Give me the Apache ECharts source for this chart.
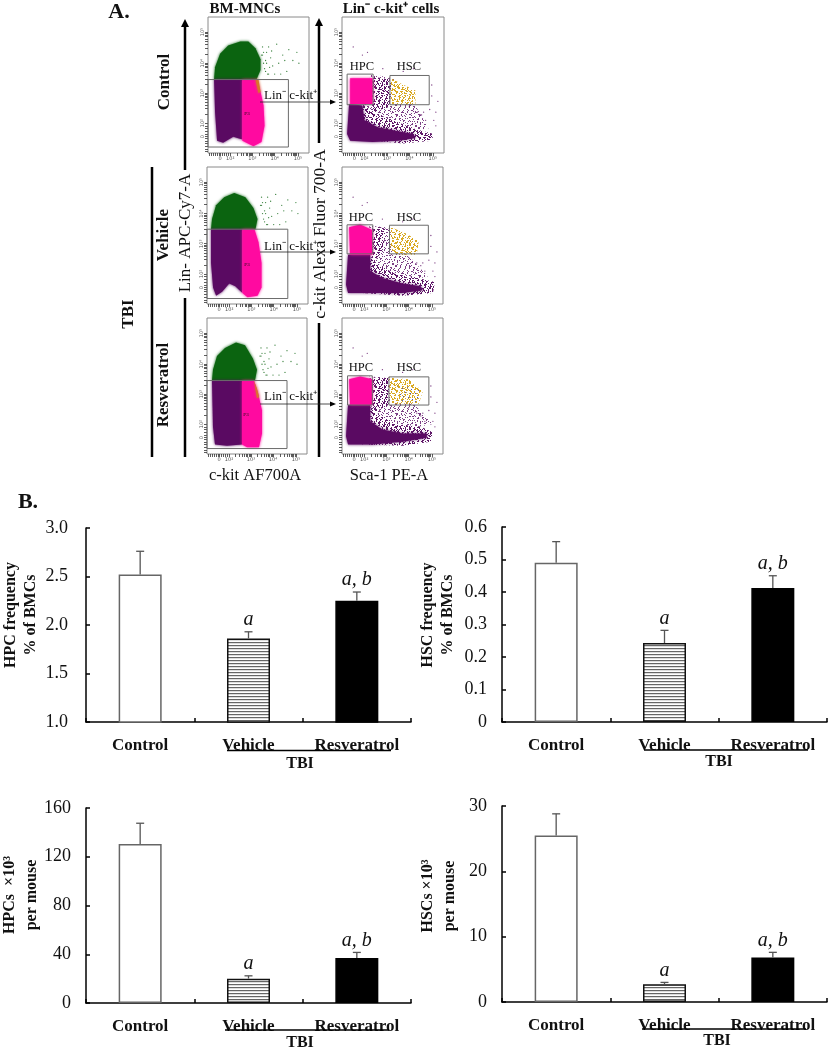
<!DOCTYPE html>
<html><head><meta charset="utf-8">
<style>html,body{margin:0;padding:0;background:#fff}#c{width:828px;height:1050px}</style>
<script src="https://cdn.jsdelivr.net/npm/echarts@6/dist/echarts.min.js"></script>
</head><body><div id="c"></div>
<script>
// ---------- Panel B data ----------
const categories = ['Control', 'Vehicle', 'Resveratrol'];
const hpcFreqMean = [2.52, 1.86, 2.25];
const hpcFreqTop = [2.76, 1.93, 2.34];
const hscFreqMean = [0.49, 0.243, 0.412];
const hscFreqTop = [0.555, 0.282, 0.45];
const hpcCountMean = [130.5, 20, 37];
const hpcCountTop = [147.5, 22.3, 41.5];
const hscCountMean = [25.5, 2.7, 6.8];
const hscCountTop = [28.8, 3.0, 7.6];
const sigLabels = ['', 'a', 'a, b'];

// ---------- Panel A data: population outlines (percent of plot width / height) ----------
const greenCtrl = [[6,54],[7,63],[12,73],[20,79],[32,82],[40,82],[47,77],[52,69],[52,61],[48,54]];
const purpleCtrl = [[6,54],[34,54],[34,10],[25,12],[15,7.5],[9,9],[7,30]];
const pinkCtrl = [[34,54],[48,54],[52,45],[55,35],[56,20],[53,8],[45,5],[34,9]];
const sliverCtrl = [[47,54],[50,54],[52,45],[50,44]];
const greenVeh = [[4,54.6],[5,62],[9,72],[17,78],[27,81],[38,78],[46,70],[50,62],[48,54.6]];
const purpleVeh = [[4,54.6],[35,54.6],[35,8],[28,13],[22,15],[15,9],[9,6],[6,12],[4,30]];
const pinkVeh = [[35,54.6],[47,54.6],[51,45],[54,30],[54,12],[50,6],[40,5],[35,8]];
const greenRes = [[5,54],[6,62],[10,72],[18,78],[29,82],[38,80],[46,70],[50,62],[48,54]];
const purpleRes = [[5,54],[35,54],[35,7],[20,6],[8,7],[6,20]];
const pinkRes = [[35,54],[47,54],[51,45],[55,32],[55,15],[52,5],[40,5],[35,7]];
const sliverRes = [[47,54],[50,48],[52,42],[50,41]];

const denseCtrl = [[7,36],[20,35],[22,24],[35,19],[55,16],[70,14],[72,11],[55,9],[30,8],[8,9],[5,14]];
const tailCtrl = [[20,36],[30,30],[50,24],[70,18],[90,14],[88,9],[60,7],[20,10]];
const midCtrl = [[30,56],[48,54],[47,34],[30,30]];
const sparseCtrl = [[28,58],[50,55],[72,35],[85,18],[60,16],[30,22],[22,32]];
const hpcCtrl = [[8,55],[30,55],[30,36],[8,36]];
const hscCtrl = [[48,55],[58,51],[72,46],[72,36],[48,36]];
const denseVeh = [[6,36],[28,36],[28,24],[40,19],[60,15],[78,13],[80,10],[60,8],[30,8],[6,8],[4,14]];
const tailVeh = [[26,36],[34,30],[52,22],[75,19],[92,16],[90,8],[60,6],[20,8]];
const midVeh = [[30,57],[44,55],[40,38],[30,30]];
const sparseVeh = [[27,57],[45,56],[60,40],[85,20],[60,16],[30,22],[27,30]];
const hpcVeh = [[7,56],[18,58],[30,54],[30,36],[8,36]];
const hscVeh = [[48,56],[62,52],[76,46],[74,36],[55,36],[48,40]];
const denseRes = [[6,36],[28,36],[28,24],[40,18],[60,15],[84,15],[84,12],[60,9],[30,7],[6,7],[4,13]];
const tailRes = [[26,36],[34,30],[52,22],[78,20],[90,16],[88,9],[60,6],[20,7]];
const midRes = [[30,56],[46,56],[46,36],[30,30]];
const sparseRes = [[27,57],[50,56],[72,36],[90,22],[60,18],[30,24]];
const hpcRes = [[7,55],[18,57],[30,55],[30,36],[8,36]];
const hscRes = [[46,56],[66,55],[80,46],[76,37],[48,37]];
const blueRes = [[55,50],[76,48],[76,38],[60,38]];

const strayLeft = [[56,62],[58,66],[54,72],[60,58],[62,70],[66,58],[70,66],[74,72],[80,76],[84,68],[60,78],[55,74],[68,80],[78,60],[88,74],[64,64],[72,58],[57,68],[53,72],[90,66],[76,68],[59,58],[55,66],[57,60],[61,63],[54,78],[58,74],[63,75]];
const strayRight = [[11,78],[20,72],[25,74],[88,42],[92,30],[90,24],[94,38],[80,30],[70,62],[60,60],[40,62],[88,50],[78,28],[82,24],[74,30],[66,34],[92,20],[86,32]];

const flowMajorTicks = [12, 22, 44, 66, 89];
const flowTickLabels = ['0', '10²', '10³', '10⁴', '10⁵'];

const SERIF = '"Liberation Serif","Times New Roman",serif';

// ---------- fill textures ----------
const dots = [[1,2],[5,1],[9,3],[14,1],[19,2],[3,6],[8,7],[12,5],[17,6],[21,8],[1,10],[6,11],[11,9],[15,11],[20,12],[3,15],[9,14],[13,16],[18,15],[22,17],[1,19],[6,18],[11,20],[16,19],[20,21],[4,22]];
const shifts = [[0,0],[7,5],[13,11],[3,17],[17,3],[10,20],[20,9],[5,13],[15,16],[2,8],[11,2],[19,18]];
function tile(color, n) {
  const c = document.createElement('canvas'); c.width = c.height = 23;
  const g = c.getContext('2d'); g.fillStyle = color;
  shifts.slice(0,n).forEach(s => dots.forEach(d => g.fillRect((d[0]+s[0])%23, (d[1]+s[1])%23, 1, 1)));
  return {image: c, repeat: 'repeat'};
}
function stripes() {
  const c = document.createElement('canvas'); c.width = 4; c.height = 3;
  const g = c.getContext('2d'); g.fillStyle = '#fff'; g.fillRect(0,0,4,3);
  g.fillStyle = '#666'; g.fillRect(0,0,4,1); g.fillStyle = '#ddd'; g.fillRect(0,1,4,1);
  return {image: c, repeat: 'repeat'};
}
const PURPLE = '#5a0a62', GREEN = '#0b6410', PINK = '#ff0aa0', GOLD = '#d9a820', BLUE = '#4a52c8', ORANGE='#d8762a';
const sparseTile = tile('#7d3f86', 5);
const midTile = tile('#5f1868', 10);
const goldTile = tile(GOLD, 9);
const blueTile = tile(BLUE, 1);

const solid = (pts, col) => ({pts, fill: col, edge: col, blur: 3});
const soft = (pts, fill, col) => ({pts, fill, edge: col, blur: 0});
const flowPanels = [
 {box:[208,17,101,136], polys:[solid(greenCtrl,GREEN),solid(purpleCtrl,PURPLE),solid(pinkCtrl,PINK),solid(sliverCtrl,ORANGE)], gates:[[0,4.4,79.6,54]], stray:strayLeft, strayCol:GREEN},
 {box:[342,17,102,136], polys:[soft(sparseCtrl,sparseTile,PURPLE),soft(midCtrl,midTile,PURPLE),soft(tailCtrl,midTile,PURPLE),solid(denseCtrl,PURPLE),solid(hpcCtrl,PINK),soft(hscCtrl,goldTile,GOLD)], gates:[[5,35.5,30.5,58],[47,35.5,85.5,57]], stray:strayRight, strayCol:PURPLE},
 {box:[207,167,101,137], polys:[solid(greenVeh,GREEN),solid(purpleVeh,PURPLE),solid(pinkVeh,PINK)], gates:[[0,4,80,54.6]], stray:strayLeft, strayCol:GREEN},
 {box:[342,167,101,137], polys:[soft(sparseVeh,sparseTile,PURPLE),soft(midVeh,midTile,PURPLE),soft(tailVeh,midTile,PURPLE),solid(denseVeh,PURPLE),solid(hpcVeh,PINK),soft(hscVeh,goldTile,GOLD)], gates:[[5,36.6,30.5,57.8],[47,36.6,85.5,57.5]], stray:strayRight, strayCol:PURPLE},
 {box:[207,318,100,136], polys:[solid(greenRes,GREEN),solid(purpleRes,PURPLE),solid(pinkRes,PINK),solid(sliverRes,ORANGE)], gates:[[0,4,80,54]], stray:strayLeft, strayCol:GREEN},
 {box:[342,318,101,136], polys:[soft(sparseRes,sparseTile,PURPLE),soft(midRes,midTile,PURPLE),soft(tailRes,midTile,PURPLE),solid(denseRes,PURPLE),solid(hpcRes,PINK),soft(hscRes,goldTile,GOLD),soft(blueRes,blueTile,BLUE)], gates:[[5.5,36,30,57.5],[46.5,36,86,56.7]], stray:strayRight, strayCol:PURPLE}
];

// ---------- bar panels ----------
const barPanels = [
 {box:[86,528,325,194], min:1, max:3, step:0.5, mean:hpcFreqMean, top:hpcFreqTop, margin:18, fmt:v=>v.toFixed(1)},
 {box:[502,527,325,195], min:0, max:0.6, step:0.1, mean:hscFreqMean, top:hscFreqTop, margin:15, fmt:v=>v===0?'0':v.toFixed(1)},
 {box:[86,808,325,195], min:0, max:160, step:40, mean:hpcCountMean, top:hpcCountTop, margin:15, fmt:v=>String(v)},
 {box:[502,806,325,196], min:0, max:30, step:10, mean:hscCountMean, top:hscCountTop, margin:15, fmt:v=>String(v)}
];
const barStyles = [
 {color:'#fff', borderColor:'#666', borderWidth:1.5},
 {color:stripes(), borderColor:'#111', borderWidth:1.5},
 {color:'#000', borderColor:'#000', borderWidth:1.5}
];

const grids = [], xAxes = [], yAxes = [], series = [];
function addGrid(b){ grids.push({left:b[0],top:b[1],width:b[2],height:b[3],containLabel:false,show:false}); return grids.length-1; }

flowPanels.forEach(p => {
  const i = addGrid(p.box);
  grids[i].show = true; grids[i].borderColor = '#8a8a8a'; grids[i].borderWidth = 1; grids[i].backgroundColor = '#fff';
  const minor = [];
  [[22,22],[44,22],[66,23]].forEach(([s,w]) => [.3,.48,.6,.7,.78,.85,.9,.95].forEach(f => minor.push(s+w*f)));
  [1,3,5,7,9,11,14,16,18,20].forEach(v => minor.push(v));
  const ticks = flowMajorTicks.concat(minor);
  const ax = rot => ({
    type:'value', gridIndex:i, min:0, max:100, splitLine:{show:false},
    axisLine:{show:false},
    axisTick:{show:true, length:3, customValues:ticks, lineStyle:{color:'#333', width:.8}},
    axisLabel:{show:true, customValues:flowMajorTicks, rotate:rot, margin:3, fontSize:5, color:'#555', fontFamily:'"DejaVu Sans"',
      formatter:v=>flowTickLabels[flowMajorTicks.indexOf(Math.round(v))]||''}
  });
  xAxes.push(ax(0)); yAxes.push(ax(90));
  series.push({type:'custom', xAxisIndex:i, yAxisIndex:i, silent:true, z:2, animation:false, coordinateSystem:'cartesian2d',
    encode:{x:0,y:1},
    data:p.polys.map((q,k)=>[k,0]),
    renderItem:(params,api)=>{
      const q = p.polys[params.dataIndex];
      return {type:'polygon', shape:{points:q.pts.map(d=>api.coord(d))},
        style:{fill:q.fill, shadowBlur:q.blur, shadowColor:q.edge}};
    }});
  series.push({type:'scatter', xAxisIndex:i, yAxisIndex:i, silent:true, z:3, animation:false, symbolSize:1.3,
    itemStyle:{color:p.strayCol}, data:p.stray});
  series.push({type:'custom', xAxisIndex:i, yAxisIndex:i, silent:true, z:4, animation:false,
    encode:{x:0,y:1},
    data:p.gates.map((g,k)=>[k,0]),
    renderItem:(params,api)=>{
      const g = p.gates[params.dataIndex];
      const a = api.coord([g[0],g[3]]), b = api.coord([g[2],g[1]]);
      return {type:'rect', shape:{x:a[0],y:a[1],width:b[0]-a[0],height:b[1]-a[1]}, style:{fill:null,stroke:'#6b6b6b',lineWidth:1}};
    }});
});

barPanels.forEach(p => {
  const i = addGrid(p.box);
  xAxes.push({type:'category', gridIndex:i, data:categories, boundaryGap:true,
    axisLine:{show:true,onZero:false,lineStyle:{color:'#000',width:1.5}},
    axisTick:{show:true,inside:true,length:4,alignWithLabel:false,lineStyle:{color:'#000',width:1.5}},
    axisLabel:{show:true,interval:0,margin:15,fontFamily:SERIF,fontWeight:'bold',fontSize:17,color:'#111'},
    splitLine:{show:false}});
  yAxes.push({type:'value', gridIndex:i, min:p.min, max:p.max, interval:p.step,
    axisLine:{show:true,lineStyle:{color:'#000',width:1.5}},
    axisTick:{show:true,inside:true,length:4,lineStyle:{color:'#000',width:1.5}},
    axisLabel:{show:true,margin:p.margin,fontFamily:SERIF,fontSize:18,color:'#111',formatter:p.fmt},
    splitLine:{show:false}});
  series.push({type:'bar', xAxisIndex:i, yAxisIndex:i, barWidth:43, silent:true, animation:false, z:2,
    data:p.mean.map((v,k)=>({value:v,itemStyle:barStyles[k]}))});
  series.push({type:'custom', xAxisIndex:i, yAxisIndex:i, silent:true, animation:false, z:3,
    encode:{x:0,y:1},
    data:p.top.map((t,k)=>[k,t,p.mean[k]]),
    renderItem:(params,api)=>{
      const a = api.coord([api.value(0),api.value(1)]), b = api.coord([api.value(0),api.value(2)]);
      const st = {stroke:'#555',lineWidth:1.3,fill:null};
      const kids = [
        {type:'line',shape:{x1:a[0],y1:a[1],x2:b[0],y2:b[1]},style:st},
        {type:'line',shape:{x1:a[0]-4,y1:a[1],x2:a[0]+4,y2:a[1]},style:st}
      ];
      const t = sigLabels[params.dataIndex];
      if (t) kids.push({type:'text',style:{text:t,x:a[0],y:a[1]-12,align:'center',verticalAlign:'middle',
        font:'italic 20px '+SERIF,fill:'#111'}});
      return {type:'group',children:kids};
    }});
});

// ---------- annotations ----------
const TXT = (text,x,y,size,opt={}) => ({type:'text',silent:true,z:20,x,y,rotation:opt.rot||0,
  style:{text,font:(opt.italic?'italic ':'')+(opt.bold?'bold ':'')+size+'px '+SERIF,fill:'#111',
    align:opt.align||'center',verticalAlign:'middle',lineHeight:opt.lh||size*1.2}});
const LINE = (x1,y1,x2,y2,w=2.5,col='#000') => ({type:'line',silent:true,z:19,shape:{x1,y1,x2,y2},style:{stroke:col,lineWidth:w}});
const HEAD = pts => ({type:'polygon',silent:true,z:19,shape:{points:pts},style:{fill:'#000'}});
const R = Math.PI/2;
const graphic = [
  TXT('A.',119,12,22,{bold:true}), TXT('B.',28,502,22,{bold:true}),
  TXT('BM-MNCs',245,9,15,{bold:true}), TXT('Lin⁻ c-kit⁺ cells',391,9,15,{bold:true}),
  TXT('Control',165,82,17,{bold:true,rot:R}), TXT('Vehicle',164,235,17,{bold:true,rot:R}),
  TXT('Resveratrol',164,385,17,{bold:true,rot:R}), TXT('TBI',129,314,17,{bold:true,rot:R}),
  TXT('Lin- APC-Cy7-A',186,233,17,{rot:R}), TXT('c-kit Alexa Fluor 700-A',320,234,17.5,{rot:R}),
  TXT('c-kit AF700A',255,476,16.5), TXT('Sca-1 PE-A',389,476,16.5),
  LINE(152,167,152,457), LINE(185,24,185,170), LINE(185,298,185,457), HEAD([[185,19],[181,27],[189,27]]),
  LINE(319,24,319,143), LINE(319,323,319,457), HEAD([[319,18],[315,26],[323,26]]),
  TXT('Lin⁻ c-kit⁺',264,96,13,{align:'left'}), TXT('Lin⁻ c-kit⁺',264,247,13,{align:'left'}), TXT('Lin⁻ c-kit⁺',264,397,13,{align:'left'}),
  LINE(260,102,330,102,0.8,'#222'), HEAD([[336,102],[330,99.5],[330,104.5]]),
  LINE(260,252,330,252,0.8,'#222'), HEAD([[336,252],[330,249.5],[330,254.5]]),
  LINE(260,404,330,404,0.8,'#222'), HEAD([[336,404],[330,401.5],[330,406.5]]),
  TXT('P3',247,114,5,{}), TXT('P3',247,265,5,{}), TXT('P3',246,415,5,{}),
  TXT('HPC',362,67,12.5), TXT('HSC',409,67,12.5),
  TXT('HPC',361,218,12.5), TXT('HSC',409,218,12.5),
  TXT('HPC',361,368,12.5), TXT('HSC',409,368,12.5),
  TXT('HPC frequency\n% of BMCs',21,615,16,{bold:true,rot:R,lh:20}),
  TXT('HSC frequency\n% of BMCs',438,615,16,{bold:true,rot:R,lh:20}),
  TXT('HPCs  ×10³\nper mouse',21,895,16,{bold:true,rot:R,lh:22}),
  TXT('HSCs ×10³\nper mouse',439,896,16,{bold:true,rot:R,lh:22}),
  LINE(227,750.5,391,750.5,1.3), LINE(644,750,808,750,1.3), LINE(225,1030,389,1030,1.3), LINE(642,1029,806,1029,1.3),
  TXT('TBI',300,764,16,{bold:true}), TXT('TBI',719,762,16,{bold:true}),
  TXT('TBI',300,1043,16,{bold:true}), TXT('TBI',717,1041,16,{bold:true})
];

const chart = echarts.init(document.getElementById('c'), null, {renderer:'canvas'});
chart.setOption({animation:false, backgroundColor:'#fff', grid:grids, xAxis:xAxes, yAxis:yAxes, series, graphic});
</script></body></html>
